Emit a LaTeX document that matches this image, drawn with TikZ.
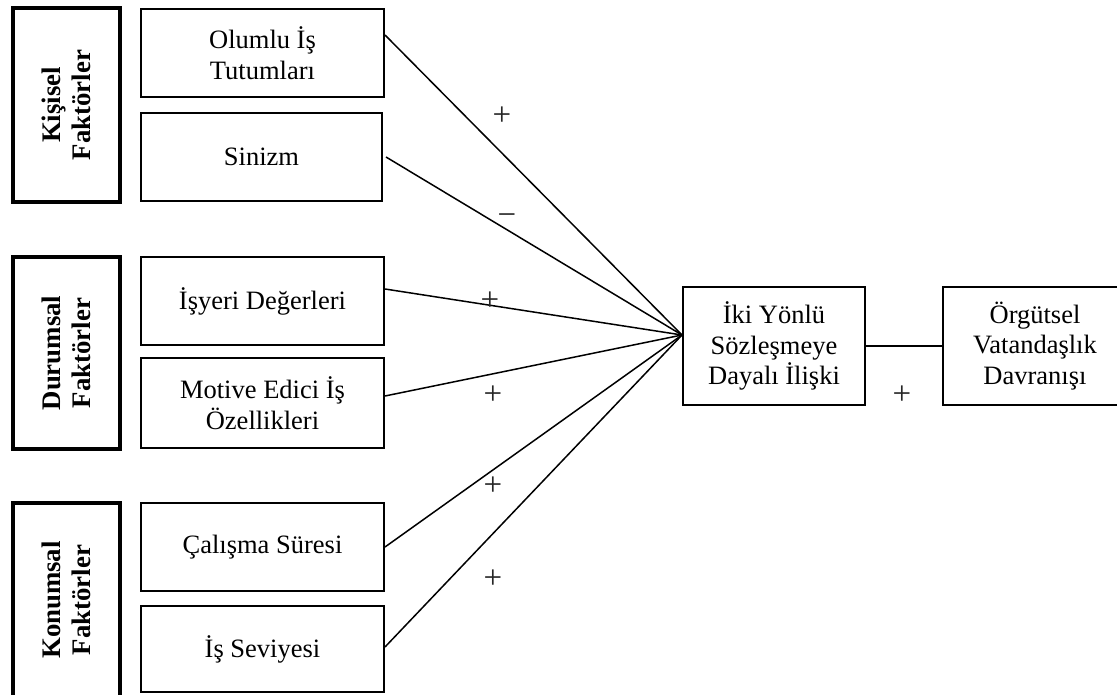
\documentclass[tikz,border=0pt]{standalone}
\usepackage{fontspec}
\setmainfont{Liberation Serif}
\begin{document}
\begin{tikzpicture}[x=1pt,y=-1pt,
  every node/.style={font=\fontsize{26.5}{30.5}\selectfont, align=center, inner sep=0pt},
  groupbox/.style={draw, line width=4pt, rotate=90, font=\fontsize{26.8}{30.5}\selectfont\bfseries},
  factorbox/.style={draw, line width=2pt, minimum width=243pt, minimum height=88pt},
  mainbox/.style={draw, line width=2pt, minimum width=182pt, minimum height=118pt},
  link/.style={line width=1.5pt},
  sign/.style={font=\fontsize{33}{36}\selectfont, text=black!85}]
\useasboundingbox (0,0) rectangle (1117,695);

% factor groups (rotated, so width/height are swapped)
\node[groupbox, minimum width=194pt, minimum height=107pt] (kisisel) at (66.5,105) {Kişisel\\Faktörler};
\node[groupbox, minimum width=192pt, minimum height=107pt] (durumsal) at (66.5,353) {Durumsal\\Faktörler};
\node[groupbox, minimum width=194pt, minimum height=107pt] (konumsal) at (66.5,600) {Konumsal\\Faktörler};

% individual factors
\node[factorbox] (olumlu) at (262.5,53) {Olumlu İş\\Tutumları};
\node[factorbox, minimum width=241pt] (sinizm) at (261.5,157) {Sinizm};
\node[factorbox] (isyeri) at (262.5,301) {İşyeri Değerleri};
\node[factorbox, minimum height=90pt] (motive) at (262.5,403) {Motive Edici İş\\Özellikleri};
\node[factorbox] (calisma) at (262.5,547) {Çalışma Süresi};
\node[factorbox, minimum height=86pt] (seviye) at (262.5,649) {İş Seviyesi};

% relation and outcome
\node[mainbox] (iki) at (774,346) {İki Yönlü\\Sözleşmeye\\Dayalı İlişki};
\node[mainbox, minimum width=184pt] (orgutsel) at (1035,346) {Örgütsel\\Vatandaşlık\\Davranışı};

\coordinate (hub) at ([yshift=11pt]iki.west);

% connectors
\draw[link] ([yshift=18pt]olumlu.east) -- (hub);
\draw[link] ([xshift=3pt]sinizm.east) -- (hub);
\draw[link] ([yshift=12pt]isyeri.east) -- (hub);
\draw[link] ([yshift=7pt]motive.east) -- (hub);
\draw[link] (calisma.east) -- (hub);
\draw[link] ([yshift=2pt]seviye.east) -- (hub);
\draw[link] (iki.east) -- (orgutsel.west);

% signs of the relations
\node[sign] (s1) at (502,116) {+};
\node[sign] (s2) at (507,220) {−};
\node[sign] (s3) at (490,301) {+};
\node[sign] (s4) at (493,395) {+};
\node[sign] (s5) at (493,486) {+};
\node[sign] (s6) at (493,579) {+};
\node[sign] (s7) at (902,395) {+};
\end{tikzpicture}
\end{document}
